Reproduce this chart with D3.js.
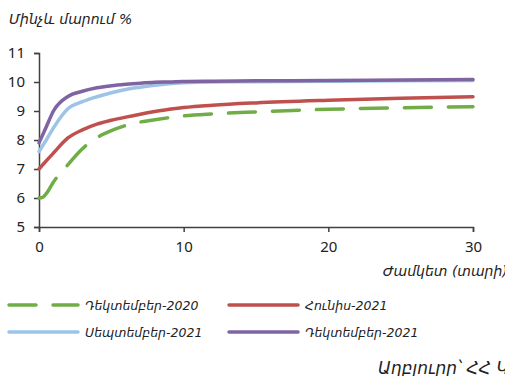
<!DOCTYPE html>
<html><head><meta charset="utf-8">
<script src="https://cdn.jsdelivr.net/npm/d3@7"></script>
<style>
body{margin:0;background:#fff;}
svg{display:block;}
.lbl{font-family:"Noto Sans","DejaVu Sans",sans-serif;font-size:15px;fill:#222;}
.arm{font-family:"DejaVu Sans",sans-serif;font-style:italic;fill:#222;}
</style></head>
<body><svg id="c" width="505" height="376"></svg>
<script>
const maturities = [0, 0.25, 0.5, 1, 2, 3, 4, 5, 6, 7, 8, 9, 10, 12, 15, 20, 25, 30];
const dec2020 = [6.0, 6.02, 6.15, 6.55, 7.15, 7.7, 8.08, 8.32, 8.5, 8.62, 8.7, 8.77, 8.83, 8.9, 8.97, 9.06, 9.11, 9.15];
const jun2021 = [7.0, 7.14, 7.28, 7.55, 8.07, 8.35, 8.55, 8.68, 8.79, 8.89, 8.98, 9.06, 9.12, 9.2, 9.28, 9.37, 9.44, 9.49];
const sep2021 = [7.6, 7.8, 8.0, 8.42, 9.08, 9.32, 9.49, 9.63, 9.74, 9.82, 9.89, 9.94, 9.97, 10.0, 10.01, 10.03, 10.04, 10.05];
const dec2021 = [7.9, 8.17, 8.45, 9.0, 9.5, 9.68, 9.8, 9.87, 9.92, 9.96, 9.99, 10.0, 10.02, 10.03, 10.04, 10.05, 10.07, 10.09];
const seriesNames = ["Դեկտեմբեր-2020", "Հունիս-2021", "Սեպտեմբեր-2021", "Դեկտեմբեր-2021"];
const seriesColors = ["#70AD47", "#C0504D", "#9DC3E6", "#8064A2"];
const xTicks = [0, 10, 20, 30];
const yTicks = [5, 6, 7, 8, 9, 10, 11];
const titleText = "Մինչև  մարում %";
const xTitle = "Ժամկետ (տարի)";
const sourceText = "Աղբյուրը՝ ՀՀ ԿԲ";

const svg = d3.select("#c");
const x = d3.scaleLinear().domain([0, 30]).range([39, 473]);
const y = d3.scaleLinear().domain([5, 11]).range([227, 53]);

// y axis
const ya = svg.append("g").attr("transform", "translate(39,0)")
  .call(d3.axisLeft(y).tickValues(yTicks).tickFormat(d3.format("d")).tickSize(5).tickPadding(9));
ya.select(".domain").attr("stroke", "#404040").attr("stroke-width", 1.5);
ya.selectAll(".tick line").attr("stroke", "#404040").attr("stroke-width", 1.5);
ya.selectAll("text").attr("class", "lbl").attr("font-family", null).attr("font-size", null);

// x axis
const xa = svg.append("g").attr("transform", "translate(0,227)")
  .call(d3.axisBottom(x).tickValues(xTicks).tickFormat(d3.format("d")).tickSize(5).tickSizeOuter(5).tickPadding(9));
xa.select(".domain").attr("stroke", "#404040").attr("stroke-width", 1.5);
xa.selectAll(".tick line").attr("stroke", "#404040").attr("stroke-width", 1.5);
xa.selectAll("text").attr("class", "lbl").attr("font-family", null).attr("font-size", null);

const data = [dec2020, jun2021, sep2021, dec2021];
const line = d3.line().x((d, i) => x(maturities[i])).y(d => y(d)).curve(d3.curveMonotoneX);
data.forEach((s, k) => {
  svg.append("path").datum(s).attr("d", line)
    .attr("fill", "none").attr("stroke", seriesColors[k]).attr("stroke-width", 3.5)
    .attr("stroke-linecap", "round").attr("stroke-linejoin", "round")
    .attr("stroke-dasharray", k === 0 ? "27,17" : null);
});

svg.append("text").attr("class", "arm").attr("x", 9).attr("y", 24).attr("font-size", 14).text(titleText);
svg.append("text").attr("class", "arm").attr("x", 383).attr("y", 276).attr("font-size", 14).text(xTitle);

// legend
const legPos = [[9, 305], [229, 305], [9, 332], [229, 332]];
seriesNames.forEach((n, k) => {
  const [lx, ly] = legPos[k];
  svg.append("line").attr("x1", lx).attr("x2", lx + 69).attr("y1", ly).attr("y2", ly)
    .attr("stroke", seriesColors[k]).attr("stroke-width", 3.5).attr("stroke-linecap", "round")
    .attr("stroke-dasharray", k === 0 ? "27,17" : null);
  svg.append("text").attr("class", "arm").attr("x", lx + 76).attr("y", ly + 5).attr("font-size", 12.5).text(n);
});

svg.append("text").attr("class", "arm").attr("x", 378).attr("y", 374).attr("font-size", 17).text(sourceText);
</script></body></html>
